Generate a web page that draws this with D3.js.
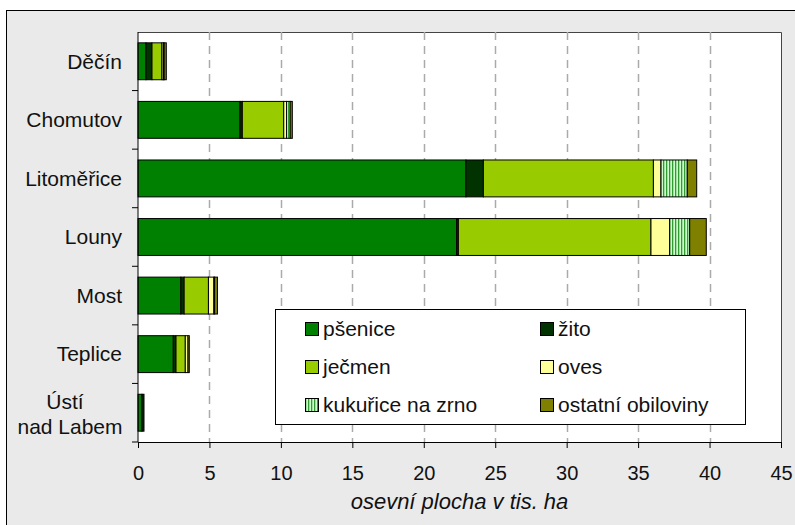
<!DOCTYPE html>
<html lang="cs">
<head>
    <meta charset="UTF-8">
    <title>Osevní plocha obilovin</title>
    <script src="https://d3js.org/d3.v7.min.js"></script>
    <style>
        body { margin: 0; background: #fff; }
        text { font-family: "Liberation Sans", Arial, sans-serif; }
    </style>
</head>
<body>
    <svg id="chart"></svg>

    <script>
        // okresy (shora dolů)
        const districts = ["Děčín", "Chomutov", "Litoměřice", "Louny", "Most", "Teplice", "Ústí nad Labem"];
        const crops = ["pšenice", "žito", "ječmen", "oves", "kukuřice na zrno", "ostatní obiloviny"];

        // osevní plocha v tis. ha (odhad z grafu)
        const psenice  = [0.56, 7.14, 22.95, 22.30, 3.00, 2.47, 0.28];
        const zito     = [0.42, 0.16, 1.22, 0.12, 0.23, 0.19, 0.14];
        const jecmen   = [0.70, 2.90, 11.90, 13.48, 1.70, 0.65, 0.00];
        const oves     = [0.10, 0.20, 0.53, 1.31, 0.38, 0.19, 0.00];
        const kukurice = [0.05, 0.25, 1.84, 1.40, 0.05, 0.00, 0.00];
        const ostatni  = [0.15, 0.15, 0.66, 1.16, 0.20, 0.09, 0.00];

        const xTicks = [0, 5, 10, 15, 20, 25, 30, 35, 40, 45];
        const colors = ["#008000", "#003300", "#99cc00", "#ffff99", "url(#stripes)", "#808000"];

        const width = 795;
        const height = 525;
        const margin = {top: 32, right: 14, bottom: 83, left: 138};

        const rows = districts.map((d, i) => ({
            district: d,
            "pšenice": psenice[i],
            "žito": zito[i],
            "ječmen": jecmen[i],
            "oves": oves[i],
            "kukuřice na zrno": kukurice[i],
            "ostatní obiloviny": ostatni[i]
        }));
        const series = d3.stack().keys(crops)(rows);

        const svg = d3.select("#chart")
            .attr("width", width)
            .attr("height", height)
            .attr("viewBox", [0, 0, width, height]);

        const defs = svg.append("defs");
        const pat = defs.append("pattern")
            .attr("id", "stripes")
            .attr("patternUnits", "userSpaceOnUse")
            .attr("width", 3)
            .attr("height", 10);
        pat.append("rect").attr("width", 3).attr("height", 10).attr("fill", "#ccffcc");
        pat.append("rect").attr("width", 1.3).attr("height", 10).attr("fill", "#339933");

        // pozadí grafu
        svg.append("rect")
            .attr("x", 6.5).attr("y", 10.5)
            .attr("width", 800).attr("height", 530)
            .attr("fill", "#eaeaea")
            .attr("stroke", "#000");

        const x = d3.scaleLinear()
            .domain([0, 45])
            .range([margin.left, width - margin.right]);

        const y = d3.scaleBand()
            .domain(districts)
            .range([margin.top, height - margin.bottom])
            .paddingInner(0.37)
            .paddingOuter(0.185);

        // plocha grafu
        svg.append("rect")
            .attr("x", x(0)).attr("y", margin.top)
            .attr("width", x(45) - x(0))
            .attr("height", height - margin.bottom - margin.top)
            .attr("fill", "#fff");
        svg.append("path")
            .attr("d", `M${x(0)},${margin.top + 0.5}H${x(45) + 0.5}V${height - margin.bottom}`)
            .attr("fill", "none")
            .attr("stroke", "#444");

        // mřížka
        svg.append("g")
            .selectAll("line")
            .data(xTicks.filter(t => t > 0 && t < 45))
            .join("line")
            .attr("x1", d => Math.round(x(d)) + 0.5)
            .attr("x2", d => Math.round(x(d)) + 0.5)
            .attr("y1", margin.top)
            .attr("y2", height - margin.bottom)
            .attr("stroke", "#aaa")
            .attr("stroke-width", 1.5)
            .attr("stroke-dasharray", "8,6");

        // sloupce
        svg.append("g")
            .selectAll("g")
            .data(series)
            .join("g")
            .attr("fill", (d, i) => colors[i])
            .selectAll("rect")
            .data(d => d.filter(s => s[1] - s[0] > 0))
            .join("rect")
            .attr("x", d => x(d[0]))
            .attr("y", d => y(d.data.district))
            .attr("width", d => x(d[1]) - x(d[0]))
            .attr("height", y.bandwidth())
            .attr("stroke", "#000")
            .attr("stroke-width", 1);

        // osa x
        const xAxis = svg.append("g")
            .attr("transform", `translate(0,${height - margin.bottom})`)
            .call(d3.axisBottom(x).tickValues(xTicks).tickSize(6).tickPadding(18).tickSizeOuter(0));
        xAxis.select(".domain").attr("stroke", "#000");
        xAxis.selectAll("text")
            .attr("font-size", 20)
            .attr("fill", "#111")
            .style("font-family", "Liberation Sans, Arial, sans-serif");

        // osa y
        svg.append("line")
            .attr("x1", x(0)).attr("x2", x(0))
            .attr("y1", margin.top).attr("y2", height - margin.bottom)
            .attr("stroke", "#000");
        const bounds = d3.range(districts.length + 1)
            .map(i => margin.top + i * (height - margin.bottom - margin.top) / districts.length);
        svg.append("g")
            .selectAll("line")
            .data(bounds.slice(1))
            .join("line")
            .attr("x1", x(0) - 6).attr("x2", x(0))
            .attr("y1", d => d).attr("y2", d => d)
            .attr("stroke", "#000");

        const labels = svg.append("g")
            .attr("font-size", 21)
            .attr("fill", "#111")
            .selectAll("text")
            .data(districts)
            .join("text")
            .attr("y", d => y(d) + y.bandwidth() / 2);
        labels.filter(d => d !== "Ústí nad Labem")
            .attr("x", 122)
            .attr("text-anchor", "end")
            .attr("dy", "0.35em")
            .text(d => d);
        const usti = labels.filter(d => d === "Ústí nad Labem")
            .attr("x", 70)
            .attr("text-anchor", "middle");
        usti.append("tspan").attr("x", 65).attr("dy", "-0.2em").text("Ústí");
        usti.append("tspan").attr("x", 70).attr("dy", "1.2em").text("nad Labem");

        // popis osy
        svg.append("text")
            .attr("x", (x(0) + x(45)) / 2)
            .attr("y", 509)
            .attr("text-anchor", "middle")
            .attr("font-size", 22)
            .attr("font-style", "italic")
            .attr("fill", "#111")
            .text("osevní plocha v tis. ha");

        // legenda
        const legend = svg.append("g");
        legend.append("rect")
            .attr("x", 275.5).attr("y", 309.5)
            .attr("width", 470).attr("height", 115)
            .attr("fill", "#fff")
            .attr("stroke", "#000");
        const item = legend.selectAll("g")
            .data(crops)
            .join("g")
            .attr("transform", (d, i) => `translate(${i % 2 ? 540 : 305},${329 + Math.floor(i / 2) * 38})`);
        item.append("rect")
            .attr("x", 0.5).attr("y", -6.5)
            .attr("width", 13).attr("height", 13)
            .attr("fill", (d, i) => colors[i])
            .attr("stroke", "#000");
        item.append("text")
            .attr("x", 18)
            .attr("dy", "0.35em")
            .attr("font-size", 21)
            .attr("fill", "#111")
            .text(d => d);
    </script>
</body>
</html>
